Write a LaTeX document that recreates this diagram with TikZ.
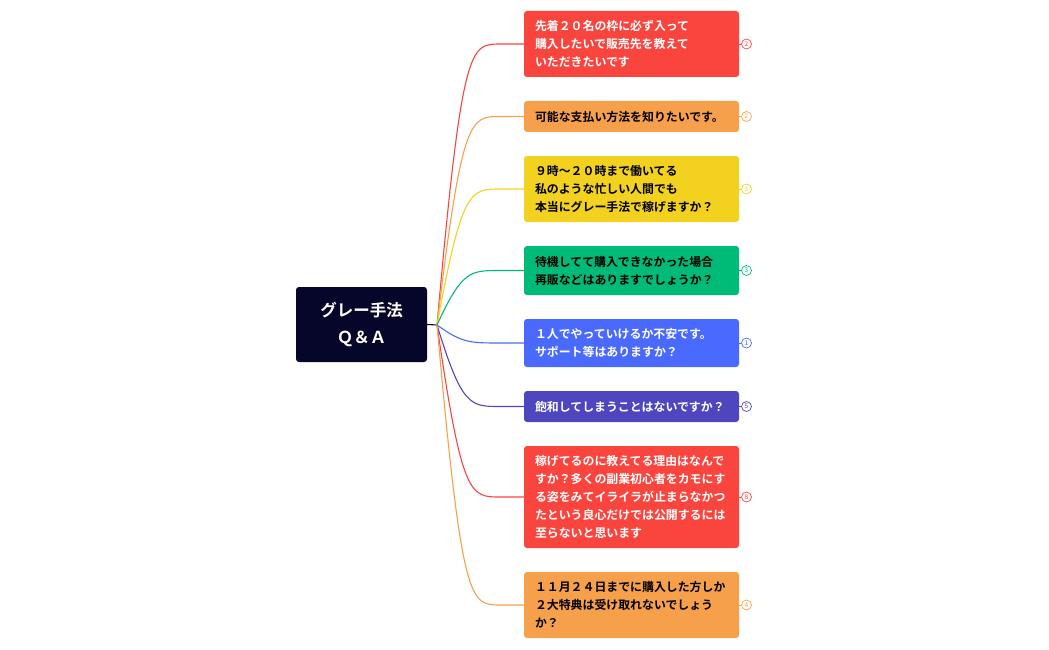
\documentclass[tikz,border=0pt]{standalone}
\usepackage{fontspec}
\setmainfont{Noto Sans CJK JP}[BoldFont={* Bold}]
\begin{document}
\begin{tikzpicture}[x=1pt,y=-1pt,
  qbox/.style={rounded corners=3pt,minimum width=215pt,text width=193pt,align=left,inner xsep=11pt,inner ysep=0pt,font=\bfseries\fontsize{11.9}{18}\selectfont},
  numbadge/.style={circle,draw,line width=0.7pt,inner sep=0pt,minimum size=10pt,font=\fontsize{6.5}{6.5}\selectfont},
  link/.style={line width=1.1pt}]
\definecolor{cred}{HTML}{FA443E}
\definecolor{corg}{HTML}{F7A04B}
\definecolor{cyel}{HTML}{F2D21F}
\definecolor{cgrn}{HTML}{00BA78}
\definecolor{cblu}{HTML}{4A69FF}
\definecolor{cind}{HTML}{4E46BE}
\definecolor{croot}{HTML}{06062A}
\useasboundingbox (0,0) rectangle (1049,650);
\node[rounded corners=3pt,fill=croot,minimum width=131pt,minimum height=75pt,text=white,align=center,font=\bfseries\fontsize{16.5}{27}\selectfont] (root) at (361.5,324.5) {グレー手法\\Ｑ＆Ａ};
\coordinate (hub) at (437,325);
\draw[link,croot] (root.east) -- (hub);
\foreach \n/\y/\h/\c/\t/\num/\txt in {
 a/44/66/cred/white/2/{先着２０名の枠に必ず入って\\購入したいで販売先を教えて\\いただきたいです},
 b/116.5/31/corg/black/2/{可能な支払い方法を知りたいです。},
 c/189/66/cyel/black/3/{９時～２０時まで働いてる\\私のような忙しい人間でも\\本当にグレー手法で稼げますか？},
 d/270.5/49/cgrn/black/3/{待機してて購入できなかった場合\\再販などはありますでしょうか？},
 e/343/48/cblu/white/1/{１人でやっていけるか不安です。\\サポート等はありますか？},
 f/406.5/31/cind/white/5/{飽和してしまうことはないですか？},
 g/497/102/cred/white/8/{稼げてるのに教えてる理由はなんで\\すか？多くの副業初心者をカモにす\\る姿をみてイライラが止まらなかつ\\たという良心だけでは公開するには\\至らないと思います},
 h/605/66/corg/black/4/{１１月２４日までに購入した方しか\\２大特典は受け取れないでしょう\\か？}} {
  \node[qbox,fill=\c,text=\t,minimum height=\h pt] (\n) at (631.5,\y) {\txt};
  \node[numbadge,draw=\c,text=\c,fill=white] (\n m) at (746.5,\y) {\num};
  \draw[\c,line width=0.7pt] (\n.east) -- (\n m.west);
  \draw[link,\c] (hub) .. controls (462,\y) and (470,\y) .. (500,\y) -- (\n.west);
}
\end{tikzpicture}
\end{document}
